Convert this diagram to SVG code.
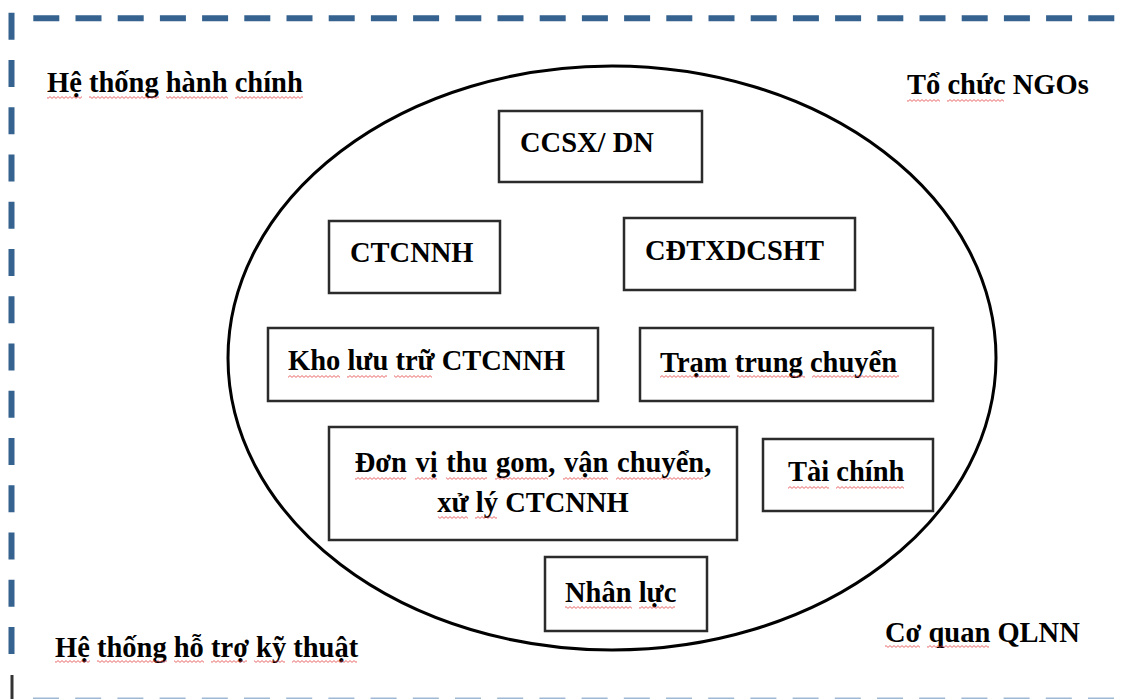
<svg xmlns="http://www.w3.org/2000/svg" width="1129" height="699" viewBox="0 0 1129 699">
<style>
.t{font-family:"Liberation Serif","Times New Roman",serif;font-weight:bold;font-size:28.5px;fill:#000}
.box{fill:#fff;stroke:#2b2b2b;stroke-width:2.5}
.dash{fill:none;stroke:#35628f;stroke-width:6}
.sq{fill:url(#squiggle)}
</style>
<defs>
<pattern id="squiggle" x="0" y="0" width="4" height="3" patternUnits="userSpaceOnUse">
<path d="M0,2.4 L2,0.6 L4,2.4" fill="none" stroke="#e23a3a" stroke-width="0.9" stroke-opacity="0.85"/>
</pattern>
</defs>
<rect width="1129" height="699" fill="#fff"/>
<g id="frame">
<line class="dash" x1="33.3" y1="18.3" x2="1135" y2="18.3" stroke-dasharray="26 16.2"/>
<line class="dash" x1="11.5" y1="12.75" x2="11.5" y2="660" stroke-dasharray="27 20.25"/>
<line x1="12" y1="675" x2="12" y2="699" stroke="#333" stroke-width="3"/>
<line x1="33" y1="700" x2="1135" y2="700" stroke="#9fb8d3" stroke-width="5" stroke-dasharray="26 16.2"/>
</g>
<g id="ellipse">
<ellipse cx="612" cy="358" rx="384" ry="292" fill="none" stroke="#000" stroke-width="3"/>
</g>
<g id="connectors"></g>
<g id="he-thong-hanh-chinh">
<text class="t" x="47" y="92">Hệ thống hành chính</text>
<rect class="sq" x="47" y="96" width="35" height="3"/><rect class="sq" x="89" y="96" width="70" height="3"/><rect class="sq" x="166" y="96" width="62" height="3"/><rect class="sq" x="235" y="96" width="68" height="3"/>
</g>
<g id="to-chuc-ngos">
<text class="t" x="907" y="94">Tổ chức NGOs</text>
<rect class="sq" x="907" y="99" width="33" height="3"/><rect class="sq" x="947" y="99" width="57" height="3"/>
</g>
<g id="he-thong-ho-tro-ky-thuat">
<text class="t" x="55" y="657">Hệ thống hỗ trợ kỹ thuật</text>
<rect class="sq" x="55" y="660" width="35" height="3"/><rect class="sq" x="97" y="660" width="70" height="3"/><rect class="sq" x="174" y="660" width="30" height="3"/><rect class="sq" x="211" y="660" width="36" height="3"/><rect class="sq" x="254" y="660" width="31" height="3"/><rect class="sq" x="292" y="660" width="65" height="3"/>
</g>
<g id="co-quan-qlnn">
<text class="t" x="885" y="642">Cơ quan QLNN</text>
<rect class="sq" x="885" y="645" width="35" height="3"/><rect class="sq" x="927" y="645" width="62" height="3"/>
</g>
<g id="ccsx-dn">
<rect class="box" x="499" y="111" width="203" height="71"/>
<text class="t" x="520" y="152">CCSX/ DN</text>
</g>
<g id="ctcnnh">
<rect class="box" x="329" y="221" width="171" height="72"/>
<text class="t" x="350" y="262">CTCNNH</text>
</g>
<g id="cdtxdcsht">
<rect class="box" x="624" y="218" width="231" height="72"/>
<text class="t" x="645" y="260">CĐTXDCSHT</text>
</g>
<g id="kho-luu-tru">
<rect class="box" x="268" y="328" width="330" height="73"/>
<text class="t" x="288" y="370">Kho lưu trữ CTCNNH</text>
<rect class="sq" x="288" y="375" width="52" height="3"/><rect class="sq" x="347" y="375" width="40" height="3"/><rect class="sq" x="394" y="375" width="38" height="3"/>
</g>
<g id="tram-trung-chuyen">
<rect class="box" x="640" y="328" width="293" height="73"/>
<text class="t" x="660" y="372">Trạm trung chuyển</text>
<rect class="sq" x="660" y="375" width="70" height="3"/><rect class="sq" x="737" y="375" width="68" height="3"/><rect class="sq" x="812" y="375" width="87" height="3"/>
</g>
<g id="don-vi-thu-gom">
<rect class="box" x="329" y="427" width="408" height="113"/>
<text class="t" x="533" y="472" text-anchor="middle" word-spacing="1.5">Đơn vị thu gom, vận chuyển,</text>
<text class="t" x="533" y="512" text-anchor="middle">xử lý CTCNNH</text>
<rect class="sq" x="355" y="477" width="51" height="3"/><rect class="sq" x="415" y="477" width="22" height="3"/><rect class="sq" x="446" y="477" width="41" height="3"/><rect class="sq" x="495" y="477" width="53" height="3"/><rect class="sq" x="563" y="477" width="45" height="3"/><rect class="sq" x="616" y="477" width="87" height="3"/>
<rect class="sq" x="438" y="516" width="30" height="3"/><rect class="sq" x="475" y="516" width="22" height="3"/>
</g>
<g id="tai-chinh">
<rect class="box" x="763" y="439" width="170" height="72"/>
<text class="t" x="788" y="481">Tài chính</text>
<rect class="sq" x="788" y="486" width="41" height="3"/><rect class="sq" x="836" y="486" width="68" height="3"/>
</g>
<g id="nhan-luc">
<rect class="box" x="545" y="557" width="162" height="74"/>
<text class="t" x="565" y="602">Nhân lực</text>
<rect class="sq" x="565" y="606" width="67" height="3"/><rect class="sq" x="639" y="606" width="36" height="3"/>
</g>
</svg>
